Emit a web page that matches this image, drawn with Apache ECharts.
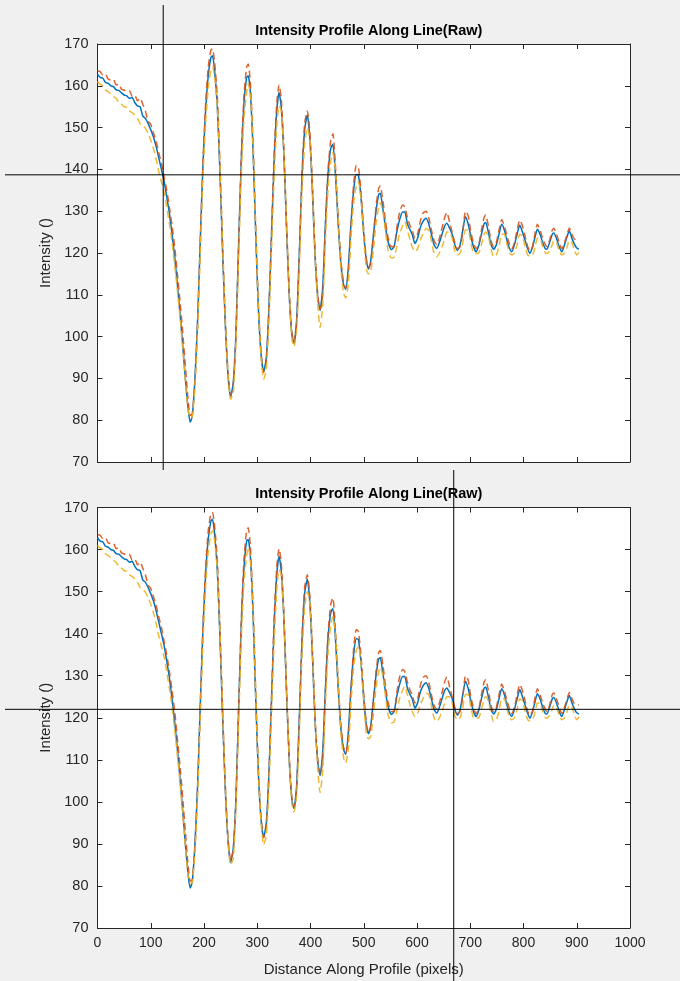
<!DOCTYPE html>
<html>
<head>
<meta charset="utf-8">
<script src="https://cdn.jsdelivr.net/npm/echarts@6/dist/echarts.min.js"></script>
<style>
  html, body { margin: 0; padding: 0; background: #f0f0f0; }
  #chart { width: 680px; height: 981px; }
</style>
</head>
<body>
<div id="chart"></div>
<script>
// Sample positions along the profile (pixels)
const distance = [
  0, 5, 10, 15, 20, 25, 30, 35, 40, 45, 50, 55, 60, 65, 70, 75, 80, 85, 90, 95,
  100, 105, 110, 115, 120, 125, 130, 135, 140, 145, 150, 155, 160, 165, 170, 174, 178, 183, 188, 193,
  198, 203, 208, 213, 216, 220, 225, 230, 235, 240, 245, 250, 255, 260, 265, 270, 275, 280, 283, 287,
  292, 297, 302, 307, 312, 317, 322, 327, 332, 337, 341, 345, 350, 355, 360, 365, 369, 374, 379, 384,
  389, 394, 399, 404, 409, 414, 418, 423, 428, 433, 438, 442, 447, 452, 457, 462, 466, 471, 476, 481,
  486, 490, 495, 500, 505, 509, 513, 518, 523, 528, 531, 536, 541, 546, 552, 557, 562, 567, 573, 577,
  582, 587, 591, 596, 601, 606, 611, 617, 622, 627, 632, 637, 642, 647, 652, 656, 661, 666, 671, 676,
  681, 686, 691, 696, 701, 706, 711, 716, 721, 726, 729, 734, 739, 744, 749, 754, 759, 764, 769, 774,
  778, 783, 788, 793, 798, 803, 808, 812, 817, 822, 826, 831, 836, 841, 844, 849, 854, 857, 862, 867,
  872, 877, 882, 886, 891, 896, 900, 904
];

// Intensity, profile 1 (solid blue)
const profileA = [
  162.8, 162.0, 161.8, 160.8, 160.6, 160.0, 159.8, 159.0, 158.9, 158.3, 157.8, 157.6, 157.0, 157.2, 156.0, 155.2, 155.0, 152.8, 152.2, 151.0,
  149.5, 147.8, 145.5, 142.8, 140.0, 137.2, 133.5, 129.5, 124.5, 119.0, 112.5, 105.5, 98.0, 90.0, 83.0, 79.5, 81.0, 90.0, 104.0, 123.0,
  141.0, 154.0, 162.5, 166.8, 167.2, 163.5, 155.0, 139.0, 120.0, 103.0, 91.0, 85.6, 89.0, 101.0, 122.0, 142.0, 155.5, 162.0, 162.4, 158.5,
  145.0, 125.0, 107.0, 96.0, 91.5, 95.0, 107.0, 125.0, 143.0, 154.5, 158.4, 155.0, 143.5, 126.0, 110.0, 100.5, 98.4, 104.0, 120.0, 138.0,
  149.5, 153.0, 147.0, 133.5, 118.0, 109.0, 106.3, 112.0, 127.0, 139.0, 145.0, 146.0, 138.5, 127.0, 117.5, 112.5, 111.3, 116.5, 127.0, 135.0,
  138.8, 138.6, 133.0, 124.5, 118.0, 116.2, 118.0, 124.0, 130.0, 134.0, 134.3, 130.5, 126.0, 122.5, 120.8, 121.5, 125.0, 127.8, 129.8, 129.8,
  127.0, 125.5, 124.5, 122.3, 123.5, 126.0, 127.5, 128.3, 127.0, 124.5, 122.0, 121.1, 122.5, 124.5, 126.5, 127.1, 126.0, 124.5, 122.0, 120.6,
  122.0, 125.5, 128.7, 127.0, 124.0, 121.5, 120.3, 121.8, 124.5, 127.0, 127.3, 125.0, 122.0, 120.9, 122.0, 124.5, 126.9, 125.5, 123.0, 121.0,
  120.3, 122.0, 124.5, 126.7, 125.0, 123.0, 121.0, 119.9, 121.5, 124.0, 125.7, 124.5, 122.5, 121.0, 120.9, 122.5, 124.5, 124.8, 123.5, 121.5,
  120.3, 122.0, 124.0, 125.3, 123.5, 122.0, 121.2, 120.9
];

// Intensity, profile 2 (dashed red)
const profileB = [
  163.6, 163.4, 162.6, 162.8, 161.6, 161.4, 161.5, 160.2, 160.4, 159.2, 159.0, 158.6, 158.8, 157.5, 157.8, 156.4, 157.0, 155.6, 154.0, 151.5,
  150.8, 148.8, 146.8, 144.0, 141.5, 138.2, 135.0, 131.0, 126.5, 121.5, 115.0, 108.5, 101.0, 93.0, 85.0, 81.2, 81.5, 89.0, 103.0, 122.5,
  141.5, 155.5, 164.5, 168.6, 168.8, 165.5, 157.5, 141.0, 121.5, 104.0, 91.5, 86.0, 88.5, 100.0, 121.5, 143.0, 157.5, 164.5, 165.2, 161.0,
  147.0, 126.5, 108.0, 96.5, 91.5, 94.0, 106.5, 125.5, 144.5, 156.5, 160.2, 157.0, 145.0, 127.0, 111.0, 101.0, 98.8, 103.0, 119.0, 138.5,
  151.0, 154.0, 148.5, 135.0, 119.0, 109.5, 106.5, 110.0, 126.0, 140.0, 147.0, 148.5, 140.5, 128.5, 118.5, 113.0, 111.5, 115.0, 126.5, 136.5,
  141.0, 140.5, 134.5, 125.5, 118.5, 116.5, 117.5, 124.0, 131.0, 135.5, 136.0, 132.5, 127.5, 123.5, 121.5, 121.5, 126.0, 129.5, 131.5, 131.0,
  128.5, 126.5, 125.5, 123.5, 124.5, 127.5, 129.5, 130.0, 128.5, 125.5, 123.0, 122.0, 123.5, 126.0, 128.5, 129.7, 127.5, 125.0, 122.5, 121.0,
  121.5, 125.0, 130.0, 129.0, 125.0, 122.5, 121.0, 122.0, 125.5, 128.5, 129.1, 126.5, 123.0, 121.5, 122.5, 125.5, 128.0, 126.5, 124.0, 122.0,
  121.0, 122.5, 125.5, 127.9, 126.5, 124.0, 121.5, 120.5, 121.5, 125.0, 126.9, 125.5, 123.5, 122.0, 121.5, 123.0, 125.5, 125.9, 124.5, 122.5,
  121.0, 122.5, 124.5, 126.0, 124.5, 123.3, 123.3, 123.0
];

// Intensity, profile 3 (dashed yellow)
const profileC = [
  161.0, 160.4, 160.0, 159.0, 158.6, 158.0, 157.4, 157.0, 156.0, 155.6, 155.0, 154.8, 154.0, 153.6, 153.0, 152.2, 151.0, 150.6, 149.8, 148.6,
  147.0, 145.0, 142.5, 139.5, 137.0, 134.5, 131.0, 127.0, 122.5, 117.0, 111.0, 104.5, 97.0, 89.5, 82.5, 80.6, 80.8, 88.0, 101.5, 120.0,
  138.0, 151.0, 159.5, 163.8, 164.5, 162.0, 155.0, 140.5, 122.0, 104.0, 91.0, 85.0, 86.5, 98.5, 118.5, 138.5, 152.0, 158.5, 160.5, 158.0,
  146.0, 126.0, 107.5, 95.5, 89.8, 92.0, 104.0, 121.5, 139.0, 151.0, 155.2, 154.0, 144.0, 127.0, 110.5, 99.5, 97.6, 101.5, 116.5, 134.5,
  146.0, 150.0, 147.0, 134.5, 118.5, 107.0, 102.2, 107.5, 123.0, 135.5, 142.0, 144.0, 139.5, 128.0, 116.5, 110.5, 109.2, 112.5, 123.5, 132.0,
  136.0, 137.0, 133.0, 123.5, 116.0, 115.0, 115.5, 120.5, 127.0, 131.0, 132.0, 130.0, 125.0, 120.5, 118.8, 119.0, 121.5, 124.5, 126.5, 127.5,
  125.5, 123.0, 121.5, 120.3, 121.0, 123.0, 124.5, 125.8, 125.5, 123.0, 120.0, 119.1, 120.0, 121.5, 123.5, 125.0, 125.0, 123.5, 120.5, 119.5,
  120.0, 122.5, 125.5, 125.5, 122.5, 120.0, 119.9, 120.0, 122.0, 124.5, 125.0, 124.0, 121.0, 119.1, 119.5, 121.5, 124.5, 124.5, 122.0, 120.0,
  119.5, 120.0, 122.0, 124.5, 124.0, 121.5, 119.5, 119.3, 119.5, 121.5, 123.5, 123.5, 121.5, 120.0, 119.9, 120.5, 122.0, 123.0, 122.5, 120.5,
  119.5, 120.0, 121.5, 123.0, 122.5, 120.5, 119.5, 120.2
];

// Cursor positions (distance, intensity) for each panel
const cursorTop = [123.4, 138.7];
const cursorBottom = [669, 122.0];

const xTicks = { min: 0, max: 1000, interval: 100 };
const yTicks = { min: 70, max: 170, interval: 10 };

const titleText = 'Intensity Profile Along Line(Raw)';
const xName = 'Distance Along Profile (pixels)';
const yName = 'Intensity ()';

const FONT = '"Liberation Sans", Arial, sans-serif';
const AXIS_COLOR = '#262626';
const colors = ['#0072BD', '#D95319', '#EDB120'];

const chart = echarts.init(document.getElementById('chart'), null, { renderer: 'canvas' });

const plotLeft = 97.5, plotWidth = 532.5;
const grids = [
  { left: plotLeft, top: 44, width: plotWidth, height: 418 },
  { left: plotLeft, top: 507.5, width: plotWidth, height: 420.5 }
];

const plainNumber = function (v) { return String(v); };

function xAxisPair(gi, labels) {
  const base = {
    type: 'value', gridIndex: gi, min: xTicks.min, max: xTicks.max, interval: xTicks.interval,
    splitLine: { show: false },
    axisLine: { show: true, onZero: false, lineStyle: { color: AXIS_COLOR, width: 1 } },
    axisTick: { show: true, inside: true, length: 5, lineStyle: { color: AXIS_COLOR } }
  };
  return [
    Object.assign({}, base, {
      position: 'bottom',
      axisLabel: labels
        ? { show: true, color: AXIS_COLOR, fontSize: 14, fontFamily: FONT, margin: 8, formatter: plainNumber }
        : { show: false },
      name: labels ? xName : '',
      nameLocation: 'middle', nameGap: 34,
      nameTextStyle: { color: AXIS_COLOR, fontSize: 15, fontFamily: FONT }
    }),
    Object.assign({}, base, { position: 'top', axisLabel: { show: false } })
  ];
}

function yAxisPair(gi) {
  const base = {
    type: 'value', gridIndex: gi, min: yTicks.min, max: yTicks.max, interval: yTicks.interval,
    splitLine: { show: false },
    axisLine: { show: true, onZero: false, lineStyle: { color: AXIS_COLOR, width: 1 } },
    axisTick: { show: true, inside: true, length: 5, lineStyle: { color: AXIS_COLOR } }
  };
  return [
    Object.assign({}, base, {
      position: 'left',
      axisLabel: { show: true, color: AXIS_COLOR, fontSize: 14.5, fontFamily: FONT, margin: 9, formatter: plainNumber },
      name: yName, nameLocation: 'middle', nameGap: 41, nameRotate: 90,
      nameTextStyle: { color: AXIS_COLOR, fontSize: 15, fontFamily: FONT }
    }),
    Object.assign({}, base, { position: 'right', axisLabel: { show: false } })
  ];
}

const xAxes = [...xAxisPair(0, false), ...xAxisPair(1, true)];
const yAxes = [...yAxisPair(0), ...yAxisPair(1)];

const profiles = [profileA, profileB, profileC];
const series = [];
[0, 1].forEach(function (gi) {
  profiles.forEach(function (vals, k) {
    series.push({
      type: 'line',
      xAxisIndex: gi * 2,
      yAxisIndex: gi * 2,
      data: distance.map(function (d, i) { return [d, vals[i]]; }),
      showSymbol: false,
      smooth: 0.2,
      clip: true,
      lineStyle: { color: colors[k], width: 1.5, type: k === 0 ? 'solid' : [7, 4], opacity: k === 0 ? 1 : 0.9 },
      z: 2 + k
    });
  });
});

const titles = grids.map(function (g) {
  return {
    text: titleText,
    left: g.left + g.width / 2,
    top: g.top - 26,
    textAlign: 'center',
    textStyle: { fontSize: 14.5, fontWeight: 'bold', color: '#000', fontFamily: FONT }
  };
});

chart.setOption({
  backgroundColor: '#f0f0f0',
  animation: false,
  title: titles,
  grid: grids.map(function (g) {
    return Object.assign({ show: true, backgroundColor: '#ffffff', borderWidth: 0 }, g);
  }),
  xAxis: xAxes,
  yAxis: yAxes,
  series: series
});

// Crosshair cursors spanning the figure, placed through the axes' scales
const pTop = chart.convertToPixel({ gridIndex: 0 }, cursorTop);
const pBot = chart.convertToPixel({ gridIndex: 1 }, cursorBottom);
const cross = { stroke: '#000', lineWidth: 1 };
chart.setOption({
  graphic: [
    { type: 'line', z: 100, shape: { x1: pTop[0], y1: 5, x2: pTop[0], y2: 470 }, style: cross, silent: true },
    { type: 'line', z: 100, shape: { x1: 5, y1: pTop[1], x2: 680, y2: pTop[1] }, style: cross, silent: true },
    { type: 'line', z: 100, shape: { x1: pBot[0], y1: 470, x2: pBot[0], y2: 981 }, style: cross, silent: true },
    { type: 'line', z: 100, shape: { x1: 5, y1: pBot[1], x2: 680, y2: pBot[1] }, style: cross, silent: true }
  ]
});
</script>
</body>
</html>
